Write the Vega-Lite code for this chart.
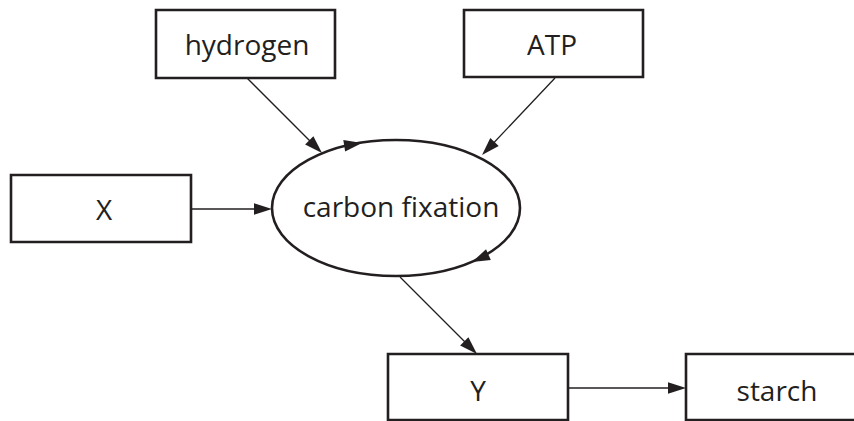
{
  "$schema": "https://vega.github.io/schema/vega-lite/v6.json",
  "width": 854,
  "height": 421,
  "autosize": {"type": "fit", "contains": "padding"},
  "padding": 0,
  "background": "white",
  "config": {"view": {"stroke": null}},
  "datasets": {
    "boxes": [
      {"label": "hydrogen", "x1": 156, "x2": 335, "y1": 10, "y2": 78, "tx": 247, "ty": 55},
      {"label": "ATP", "x1": 464, "x2": 643, "y1": 10, "y2": 77, "tx": 552, "ty": 55},
      {"label": "X", "x1": 11, "x2": 191, "y1": 175, "y2": 242, "tx": 104, "ty": 220},
      {"label": "Y", "x1": 388, "x2": 568, "y1": 354, "y2": 420, "tx": 478, "ty": 401},
      {"label": "starch", "x1": 686, "x2": 868, "y1": 354, "y2": 420, "tx": 777, "ty": 401}
    ],
    "cycle": [
      {"label": "carbon fixation", "cx": 396, "cy": 208, "tx": 401, "ty": 217}
    ],
    "arrows": [
      {"from": "hydrogen", "x1": 247, "y1": 78, "x2": 318, "y2": 149},
      {"from": "ATP", "x1": 555, "y1": 78, "x2": 486, "y2": 151},
      {"from": "X", "x1": 191, "y1": 209, "x2": 268, "y2": 209},
      {"from": "carbon fixation", "x1": 400, "y1": 277, "x2": 473, "y2": 350},
      {"from": "Y", "x1": 568, "y1": 388, "x2": 682, "y2": 388}
    ],
    "heads": [
      {"at": "hydrogen", "x": 322, "y": 153, "angle": 45},
      {"at": "ATP", "x": 482, "y": 155, "angle": 134},
      {"at": "X", "x": 272, "y": 209, "angle": 0},
      {"at": "Y", "x": 477, "y": 354, "angle": 45},
      {"at": "starch", "x": 686, "y": 388, "angle": 0},
      {"at": "cycle top", "x": 362, "y": 143, "angle": -9},
      {"at": "cycle bottom", "x": 472, "y": 262, "angle": 156}
    ]
  },
  "layer": [
    {
      "data": {"name": "arrows"},
      "mark": {"type": "rule", "stroke": "#231f20", "strokeWidth": 1.3},
      "encoding": {
        "x": {"field": "x1", "type": "quantitative", "scale": {"domain": [0, 854], "nice": false, "zero": false}, "axis": null},
        "y": {"field": "y1", "type": "quantitative", "scale": {"domain": [0, 421], "reverse": true, "nice": false, "zero": false}, "axis": null},
        "x2": {"field": "x2"},
        "y2": {"field": "y2"}
      }
    },
    {
      "data": {"name": "boxes"},
      "mark": {"type": "rect", "fill": "white", "stroke": "#231f20", "strokeWidth": 2.6, "clip": true},
      "encoding": {
        "x": {"field": "x1", "type": "quantitative"},
        "x2": {"field": "x2"},
        "y": {"field": "y1", "type": "quantitative"},
        "y2": {"field": "y2"}
      }
    },
    {
      "data": {"name": "boxes"},
      "mark": {"type": "text", "font": "Open Sans", "fontSize": 28, "fill": "#231f20", "baseline": "alphabetic", "align": "center"},
      "encoding": {
        "x": {"field": "tx", "type": "quantitative"},
        "y": {"field": "ty", "type": "quantitative"},
        "text": {"field": "label"}
      }
    },
    {
      "data": {"name": "cycle"},
      "mark": {"type": "point", "shape": "M-1,0 A1,0.548 0 1,1 1,0 A1,0.548 0 1,1 -1,0 Z", "size": 61504, "filled": false, "fill": "white", "fillOpacity": 1, "stroke": "#231f20", "strokeWidth": 2.6, "opacity": 1},
      "encoding": {
        "x": {"field": "cx", "type": "quantitative"},
        "y": {"field": "cy", "type": "quantitative"}
      }
    },
    {
      "data": {"name": "cycle"},
      "mark": {"type": "text", "font": "Open Sans", "fontSize": 28, "fill": "#231f20", "baseline": "alphabetic", "align": "center"},
      "encoding": {
        "x": {"field": "tx", "type": "quantitative"},
        "y": {"field": "ty", "type": "quantitative"},
        "text": {"field": "label"}
      }
    },
    {
      "data": {"name": "heads"},
      "mark": {"type": "point", "shape": "M0,0 L-2,-0.65 L-2,0.65 Z", "size": 324, "filled": true, "fill": "#231f20", "stroke": null, "opacity": 1},
      "encoding": {
        "x": {"field": "x", "type": "quantitative"},
        "y": {"field": "y", "type": "quantitative"},
        "angle": {"field": "angle", "type": "quantitative", "scale": null}
      }
    }
  ]
}
